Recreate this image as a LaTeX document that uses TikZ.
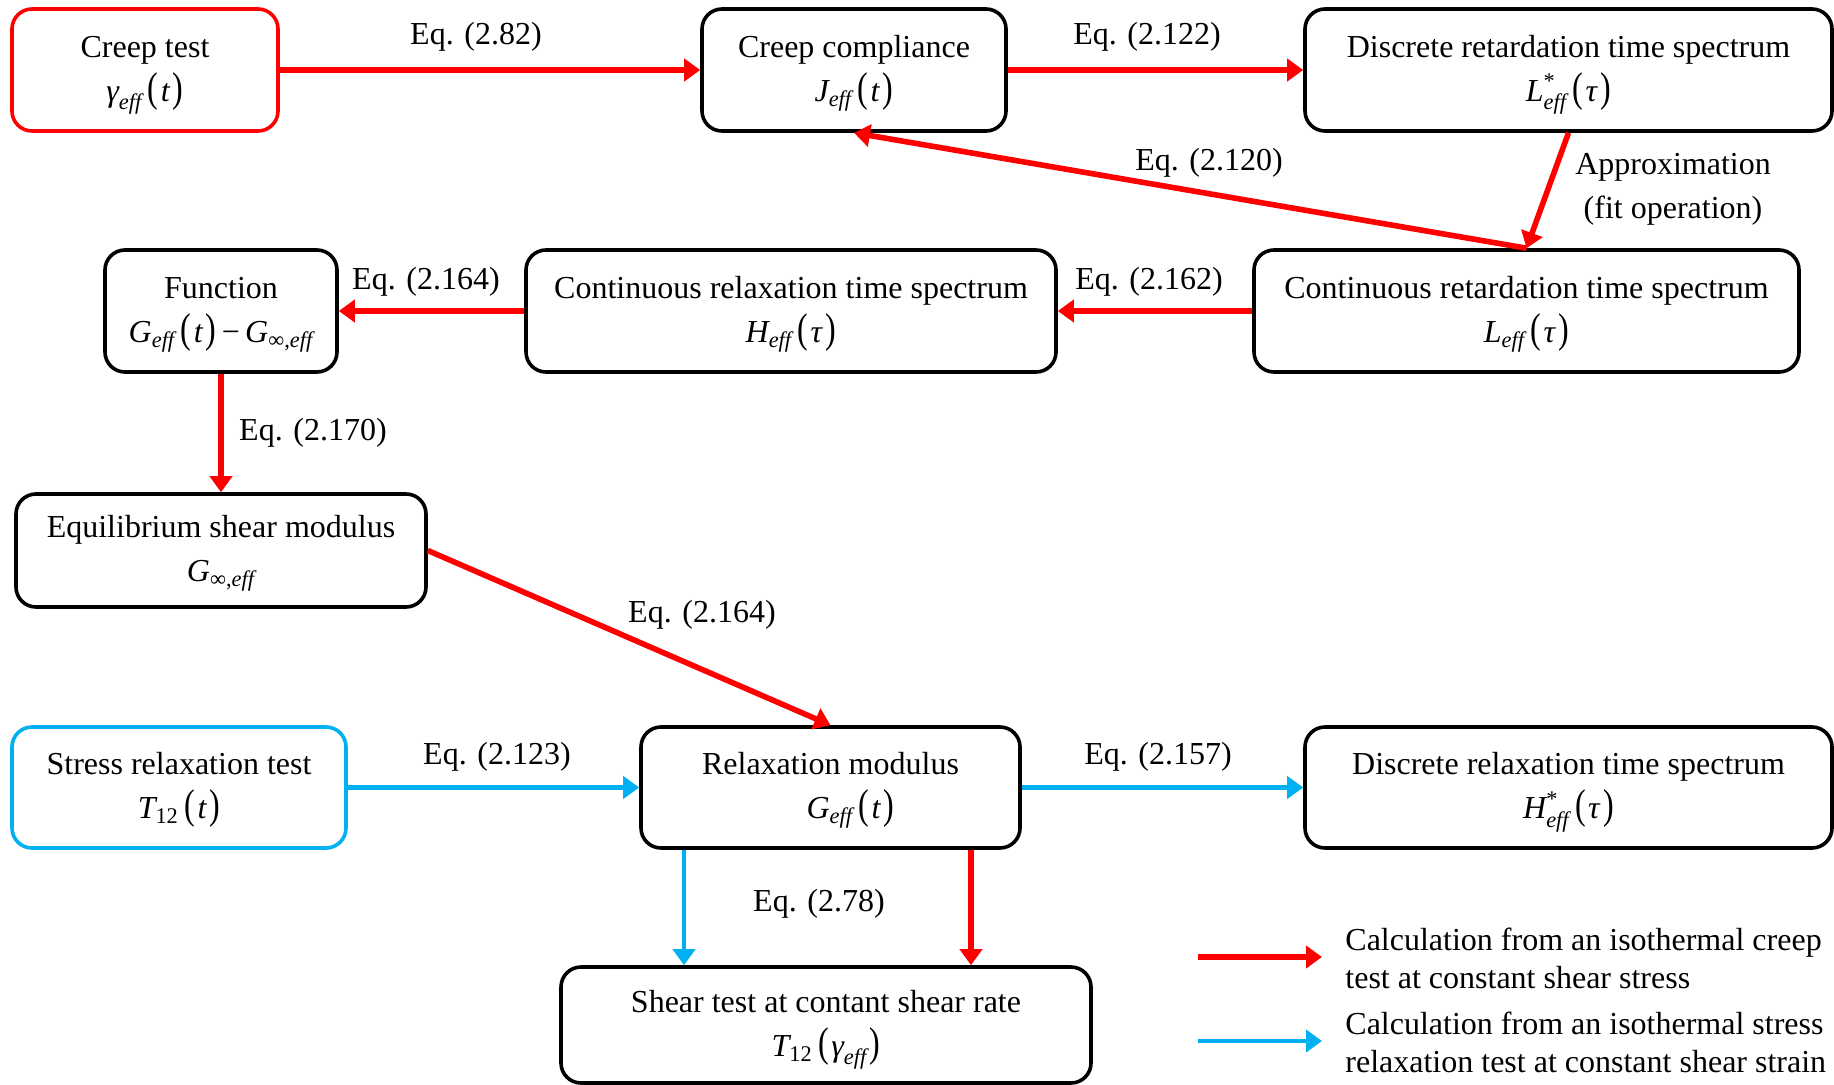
\documentclass[tikz,border=0pt]{standalone}
\usepackage{amsmath}
\usepackage{fontspec}
\usepackage{graphicx}
\setmainfont{Liberation Serif}
\usetikzlibrary{arrows.meta,calc}
\definecolor{cred}{RGB}{255,0,0}
\definecolor{ccyan}{RGB}{0,176,240}
\newcommand\mi[1]{\textit{#1}}
\newcommand\eff{\textit{eff}}
\newcommand\lp{\,\scalebox{1}[1.3]{(}\hspace{0.08em}}
\newcommand\rp{\hspace{0.08em}\scalebox{1}[1.3]{)}}
\newcommand\two[2]{\raisebox{-0.2pt}[\height][\depth]{\begin{tabular}{@{}c@{}}#1\\#2\end{tabular}}}
\begin{document}
\begin{tikzpicture}[x=0.5pt,y=-0.5pt,
  every node/.style={font=\fontsize{16}{22}\selectfont},
  box/.style={draw=black,line width=1.8pt,rounded corners=10pt,inner sep=0pt},
  redbox/.style={box,draw=cred},
  cyanbox/.style={box,draw=ccyan},
  rarr/.style={draw=cred,line width=2.8pt,-{Triangle[length=8pt,width=11pt]}},
  carr/.style={draw=ccyan,line width=2.2pt,-{Triangle[length=8pt,width=11pt]}},
  lbl/.style={inner sep=0pt}]
\useasboundingbox (0,0) rectangle (1834,1085);
% nodes
\node[redbox,minimum width=133pt,minimum height=61pt] (creep) at (145,70)
  {\two{Creep test}{$\textit{γ}_{\eff}$\lp\mi{t}\rp}};
\node[box,minimum width=152pt,minimum height=61pt] (compl) at (854,70)
  {\two{Creep compliance}{$\textit{J}_{\eff}$\lp\mi{t}\rp}};
\node[box,minimum width=263.5pt,minimum height=61pt] (dret) at (1568.5,70)
  {\two{Discrete retardation time spectrum}{$\textit{L}^{\textnormal{*}}_{\eff}$\lp\mi{τ}\rp}};
\node[box,minimum width=116pt,minimum height=61pt] (func) at (221,311)
  {\two{Function}{$\textit{G}_{\eff}$\lp\mi{t}\rp\,−\,$\textit{G}_{\textnormal{∞,}\eff}$}};
\node[box,minimum width=265pt,minimum height=61pt] (crelax) at (791,311)
  {\two{Continuous relaxation time spectrum}{$\textit{H}_{\eff}$\lp\mi{τ}\rp}};
\node[box,minimum width=272.5pt,minimum height=61pt] (cret) at (1526.5,311)
  {\two{Continuous retardation time spectrum}{$\textit{L}_{\eff}$\lp\mi{τ}\rp}};
\node[box,minimum width=205pt,minimum height=56.5pt] (equil) at (221,550.5)
  {\two{Equilibrium shear modulus}{$\textit{G}_{\textnormal{∞,}\eff}$}};
\node[cyanbox,minimum width=167pt,minimum height=60.5pt] (stress) at (179,787.5)
  {\two{Stress relaxation test}{$\textit{T}_{\textnormal{12}}$\lp\mi{t}\rp}};
\node[box,minimum width=189.5pt,minimum height=60.5pt] (relmod) at (830.5,787.5)
  {\two{Relaxation modulus}{\hspace*{20pt}$\textit{G}_{\eff}$\lp\mi{t}\rp}};
\node[box,minimum width=263.5pt,minimum height=60.5pt] (drelax) at (1568.5,787.5)
  {\two{Discrete relaxation time spectrum}{$\textit{H}^{\textnormal{*}}_{\eff}$\lp\mi{τ}\rp}};
\node[box,minimum width=265pt,minimum height=58pt] (shear) at (826,1025)
  {\two{Shear test at contant shear rate}{$\textit{T}_{\textnormal{12}}$\lp$\textit{γ}_{\eff}$\rp}};
% labels
\node[lbl] (l1) at (476,37) {Eq. (2.82)};
\node[lbl] (l2) at (1147,37) {Eq. (2.122)};
\node[lbl] (l3) at (1209,163) {Eq. (2.120)};
\node[lbl,align=center] (l4) at (1673,189) {Approximation\\(fit operation)};
\node[lbl] (l5) at (426,282) {Eq. (2.164)};
\node[lbl] (l6) at (1149,282) {Eq. (2.162)};
\node[lbl] (l7) at (313,433) {Eq. (2.170)};
\node[lbl] (l8) at (702,615) {Eq. (2.164)};
\node[lbl] (l9) at (497,757) {Eq. (2.123)};
\node[lbl] (l10) at (1158,757) {Eq. (2.157)};
\node[lbl] (l11) at (819,904) {Eq. (2.78)};
% connectors
\draw[rarr] (creep.east) -- (compl.west);
\draw[rarr] (compl.east) -- (dret.west);
\draw[rarr] (cret.north) -- (compl.south);
\draw[rarr] (dret.south) -- (cret.north);
\draw[rarr] (crelax.west) -- (func.east);
\draw[rarr] (cret.west) -- (crelax.east);
\draw[rarr] (func.south) -- (equil.north);
\draw[rarr] (equil.east) -- (relmod.north);
\draw[carr] (stress.east) -- (relmod.west);
\draw[carr] (relmod.east) -- (drelax.west);
\coordinate (b1) at ($(relmod.south)+(-146.5,0)$);
\coordinate (b2) at ($(relmod.south)+(140.5,0)$);
\draw[carr] (b1) -- (b1 |- shear.north);
\draw[rarr] (b2) -- (b2 |- shear.north);
% legend
\coordinate (la1) at (1198,957);
\coordinate (la2) at (1322,957);
\coordinate (lb1) at (1198,1041);
\coordinate (lb2) at (1322,1041);
\draw[rarr] (la1) -- (la2);
\draw[carr] (lb1) -- (lb2);
\node[lbl,anchor=west,align=left,font=\fontsize{16}{19}\selectfont] (lt1) at (1345,958)
  {Calculation from an isothermal creep\\test at constant shear stress};
\node[lbl,anchor=west,align=left,font=\fontsize{16}{19}\selectfont] (lt2) at (1345,1042)
  {Calculation from an isothermal stress\\relaxation test at constant shear strain};
\end{tikzpicture}
\end{document}
